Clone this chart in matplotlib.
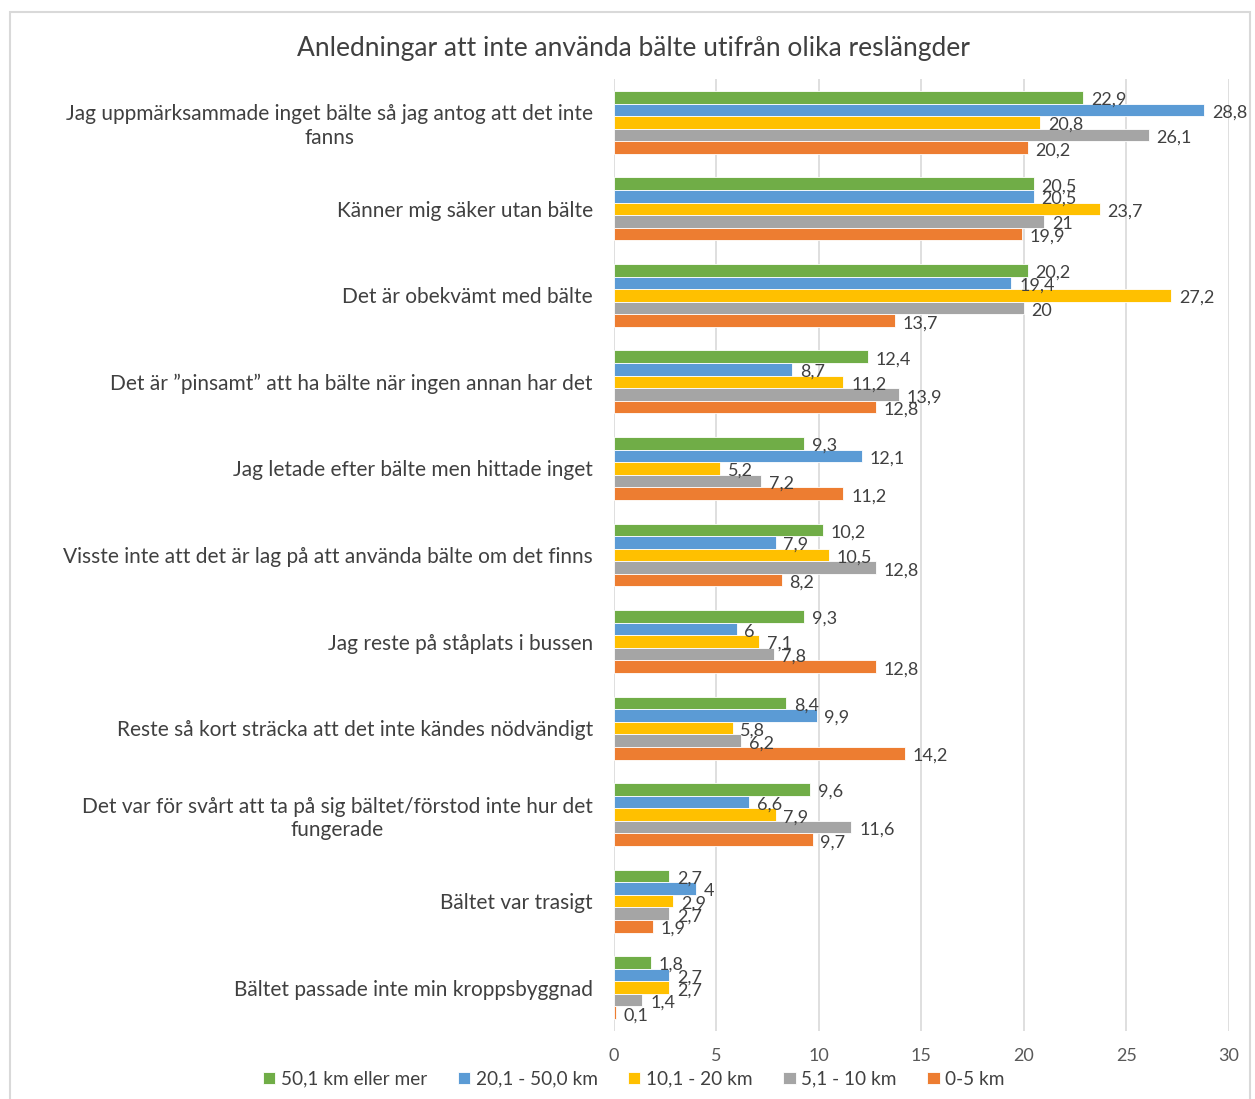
import numpy as np
import matplotlib.pyplot as plt
from matplotlib.patches import Rectangle

plt.rcParams['font.family'] = ['Lato', 'DejaVu Sans']

categories = [
    "Jag uppmärksammade inget bälte så jag antog att det inte\nfanns",
    "Känner mig säker utan bälte",
    "Det är obekvämt med bälte",
    "Det är \u201dpinsamt\u201d att ha bälte när ingen annan har det",
    "Jag letade efter bälte men hittade inget",
    "Visste inte att det är lag på att använda bälte om det finns",
    "Jag reste på ståplats i bussen",
    "Reste så kort sträcka att det inte kändes nödvändigt",
    "Det var för svårt att ta på sig bältet/förstod inte hur det\nfungerade",
    "Bältet var trasigt",
    "Bältet passade inte min kroppsbyggnad",
]
series_names = ["50,1 km eller mer", "20,1 - 50,0 km", "10,1 - 20 km", "5,1 - 10 km", "0-5 km"]
km50 = [22.9, 20.5, 20.2, 12.4, 9.3, 10.2, 9.3, 8.4, 9.6, 2.7, 1.8]
km20 = [28.8, 20.5, 19.4, 8.7, 12.1, 7.9, 6.0, 9.9, 6.6, 4.0, 2.7]
km10 = [20.8, 23.7, 27.2, 11.2, 5.2, 10.5, 7.1, 5.8, 7.9, 2.9, 2.7]
km5 = [26.1, 21.0, 20.0, 13.9, 7.2, 12.8, 7.8, 6.2, 11.6, 2.7, 1.4]
km0 = [20.2, 19.9, 13.7, 12.8, 11.2, 8.2, 12.8, 14.2, 9.7, 1.9, 0.1]
colors = ["#70AD47", "#5B9BD5", "#FFC000", "#A5A5A5", "#ED7D31"]

data = [km50, km20, km10, km5, km0]

def fmt(v):
    if float(v).is_integer():
        return str(int(v))
    return f"{v:.1f}".replace('.', ',')

fig = plt.figure(figsize=(12.55, 10.99), dpi=100)
ax = fig.add_axes([0.489, 0.062, 0.490, 0.866])

y = np.arange(len(categories))
h = 0.1455
for j, (vals, name, c) in enumerate(zip(data, series_names, colors)):
    pos = y + (j - 2) * h
    ax.barh(pos, vals, height=h, color=c, edgecolor='white', linewidth=0.6, label=name, zorder=2)
    for p, v in zip(pos, vals):
        ax.text(v + 0.38, p + 0.03, fmt(v), va='center', ha='left', fontsize=13, color='#404040', zorder=3)

ax.set_ylim(len(categories) - 0.5, -0.5)
ax.set_xlim(0, 30)
ax.set_xticks(range(0, 31, 5))
ax.set_yticks(y)
ax.set_yticklabels(categories, fontsize=15, color='#404040')
for t in ax.get_yticklabels():
    t.set_multialignment('center')
ax.tick_params(axis='x', labelsize=13, colors='#595959', length=0, pad=12)
ax.tick_params(axis='y', length=0, pad=15)
ax.grid(axis='x', color='#D9D9D9', linewidth=1.2, zorder=0)
for s in ax.spines.values():
    s.set_visible(False)

fig.suptitle("Anledningar att inte använda bälte utifrån olika reslängder",
             x=0.505, y=0.967, fontsize=19, color='#404040')

fig.legend(loc='center', bbox_to_anchor=(0.505, 0.018), ncol=5, frameon=False,
           fontsize=13.7, labelcolor='#404040', handlelength=0.65, handleheight=0.65,
           handletextpad=0.3, columnspacing=1.6)

fig.patches.append(Rectangle((10 / 1255, -0.01), 1240 / 1255, 1 - 12 / 1099 + 0.01,
                             transform=fig.transFigure, fill=False,
                             edgecolor='#D9D9D9', linewidth=1.5))

fig.savefig('out.png', dpi=100)
